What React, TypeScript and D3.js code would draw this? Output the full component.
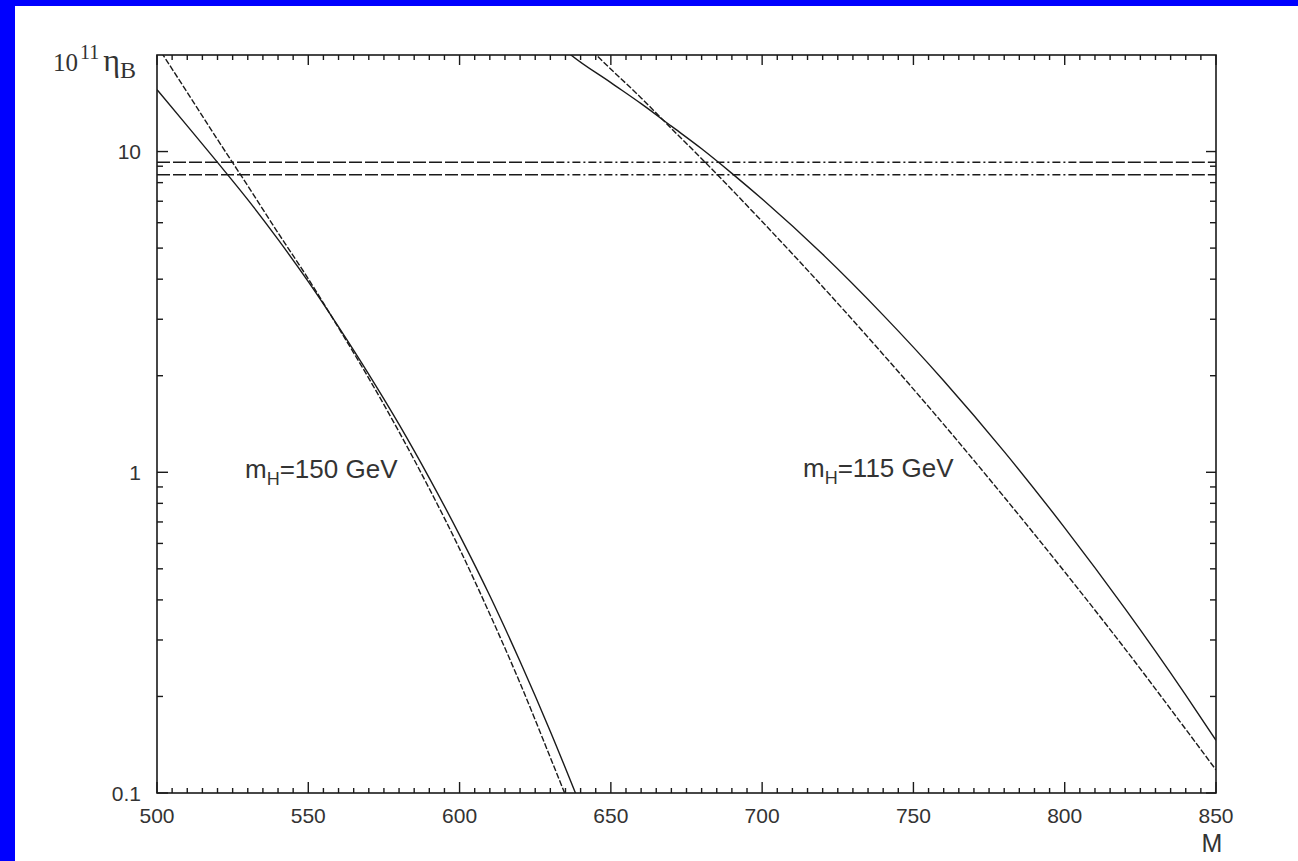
import React from "react";
import * as d3 from "d3";

const W = 1298;
const H = 861;
const PL = 157, PR = 1216, PT = 55, PB = 793;

const xDomain = [500, 850];
const yDomain = [0.1, 20];
const xMajorTicks = [500, 550, 600, 650, 700, 750, 800, 850];
const yMajorTicks = [0.1, 1, 10];
const yMajorLabels = ["0.1", "1", "10"];

// m_H = 150 GeV
const m150SolidM = [500, 510, 520, 530, 540, 550, 560, 570, 580, 590, 600, 610, 620, 630, 640];
const m150SolidEta = [15.6, 12.02, 9.25, 7.08, 5.32, 3.93, 2.84, 2.02, 1.41, 0.959, 0.637, 0.412, 0.257, 0.1556, 0.0912];
const m150DashedM = [500, 510, 520, 530, 540, 550, 560, 570, 580, 590, 600, 610, 620, 630, 640];
const m150DashedEta = [21.4, 15.28, 10.9, 7.82, 5.58, 4.01, 2.82, 1.963, 1.337, 0.889, 0.577, 0.361, 0.22, 0.129, 0.075];

// m_H = 115 GeV
const m115SolidM = [633, 636, 650, 660, 670, 680, 690, 700, 720, 740, 760, 780, 800, 820, 840, 850];
const m115SolidEta = [21.5, 20.3, 16.4, 14.1, 12.0, 10.2, 8.55, 7.11, 4.78, 3.09, 1.93, 1.16, 0.671, 0.375, 0.202, 0.146];
const m115DashedM = [642, 645, 660, 670, 680, 690, 700, 720, 740, 760, 780, 800, 820, 840, 850];
const m115DashedEta = [21.5, 20.1, 14.7, 11.8, 9.5, 7.6, 6.05, 3.79, 2.33, 1.41, 0.837, 0.489, 0.281, 0.158, 0.118];

// observed band
const etaBand = [9.26, 8.46];
// segments of the band lines with their dash styles (in M)
const bandSegStart = [500, 632, 805];
const bandSegEnd = [632, 805, 850];
const bandSegDash = ["13,3", "8,3,2,3", "13,3"];

const curves = [
  { M: m150SolidM, eta: m150SolidEta, dash: "none" },
  { M: m150DashedM, eta: m150DashedEta, dash: "6,2" },
  { M: m115SolidM, eta: m115SolidEta, dash: "none" },
  { M: m115DashedM, eta: m115DashedEta, dash: "6,2" },
];

export default function App() {
  const x = d3.scaleLinear().domain(xDomain).range([PL, PR]);
  const y = d3.scaleLog().domain(yDomain).range([PB, PT]);

  const line = d3
    .line<[number, number]>()
    .x((d) => x(d[0]))
    .y((d) => y(d[1]))
    .curve(d3.curveMonotoneX);

  const xMinor = d3.range(505, 850, 5).filter((v) => v % 50 !== 0);
  const yMinor: number[] = [];
  [0.1, 1, 10].forEach((dec) => {
    for (let k = 2; k <= 9; k++) {
      const v = dec * k;
      if (v < yDomain[1]) yMinor.push(v);
    }
  });

  const stroke = "#1a1a1a";
  const sans = "'Liberation Sans', Arial, Helvetica, sans-serif";
  const serif = "'Liberation Serif', 'Times New Roman', serif";

  return (
    <svg
      width={W}
      height={H}
      style={{ position: "fixed", left: 0, top: 0, background: "#fff" }}
    >
      <rect x={0} y={0} width={W} height={H} fill="#fff" />
      <rect x={0} y={0} width={W} height={6} fill="#0000ff" />
      <rect x={0} y={0} width={15} height={H} fill="#0000ff" />

      <defs>
        <clipPath id="plotClip">
          <rect x={PL} y={PT} width={PR - PL} height={PB - PT} />
        </clipPath>
      </defs>

      {/* curves */}
      <g clipPath="url(#plotClip)" fill="none" stroke={stroke} strokeWidth={1.4}>
        {curves.map((c, i) => (
          <path
            key={i}
            d={line(c.M.map((m, j) => [m, c.eta[j]] as [number, number])) || ""}
            strokeDasharray={c.dash}
          />
        ))}
        {etaBand.map((v, i) =>
          bandSegStart.map((s, k) => (
            <line
              key={"b" + i + "-" + k}
              x1={x(s)}
              x2={x(bandSegEnd[k])}
              y1={y(v)}
              y2={y(v)}
              strokeDasharray={bandSegDash[k]}
              strokeWidth={1.5}
            />
          ))
        )}
      </g>

      {/* ticks */}
      <g stroke={stroke} strokeWidth={1.4}>
        {xMajorTicks.map((t) => (
          <g key={"xM" + t}>
            <line x1={x(t)} x2={x(t)} y1={PB} y2={PB - 11} />
            <line x1={x(t)} x2={x(t)} y1={PT} y2={PT + 10} />
          </g>
        ))}
        {xMinor.map((t) => (
          <g key={"xm" + t}>
            <line x1={x(t)} x2={x(t)} y1={PB} y2={PB - 5} />
            <line x1={x(t)} x2={x(t)} y1={PT} y2={PT + 5} />
          </g>
        ))}
        {yMajorTicks.map((t) => (
          <g key={"yM" + t}>
            <line x1={PL} x2={PL + 11} y1={y(t)} y2={y(t)} />
            <line x1={PR} x2={PR - 10} y1={y(t)} y2={y(t)} />
          </g>
        ))}
        {yMinor.map((t) => (
          <g key={"ym" + t}>
            <line x1={PL} x2={PL + 6} y1={y(t)} y2={y(t)} />
            <line x1={PR} x2={PR - 6} y1={y(t)} y2={y(t)} />
          </g>
        ))}
      </g>

      {/* frame */}
      <rect
        x={PL}
        y={PT}
        width={PR - PL}
        height={PB - PT}
        fill="none"
        stroke={stroke}
        strokeWidth={1.6}
      />

      {/* tick labels */}
      <g fontFamily={sans} fontSize={21} fill="#333">
        {xMajorTicks.map((t) => (
          <text key={"xl" + t} x={x(t)} y={823} textAnchor="middle">
            {t}
          </text>
        ))}
        {yMajorTicks.map((t, i) => (
          <text
            key={"yl" + t}
            x={141}
            y={y(t)}
            textAnchor="end"
            dominantBaseline="central"
          >
            {yMajorLabels[i]}
          </text>
        ))}
      </g>

      {/* axis titles */}
      <text x={1212} y={852} fontFamily={sans} fontSize={25} fill="#333" textAnchor="middle">
        M
      </text>
      <text x={53} y={71} fontFamily={serif} fontSize={25} fill="#333">
        10
        <tspan fontSize={20} dy={-12} dx={2}>11</tspan>
        <tspan fontSize={32} dy={12} dx={4}>η</tspan>
        <tspan fontSize={24} dy={7}>B</tspan>
      </text>

      {/* curve labels */}
      <g fontFamily={sans} fontSize={26} fill="#333">
        <text x={245} y={478}>
          m<tspan fontSize={18} dy={7}>H</tspan>
          <tspan dy={-7}>=150 GeV</tspan>
        </text>
        <text x={803} y={477}>
          m<tspan fontSize={18} dy={7}>H</tspan>
          <tspan dy={-7}>=115 GeV</tspan>
        </text>
      </g>
    </svg>
  );
}
